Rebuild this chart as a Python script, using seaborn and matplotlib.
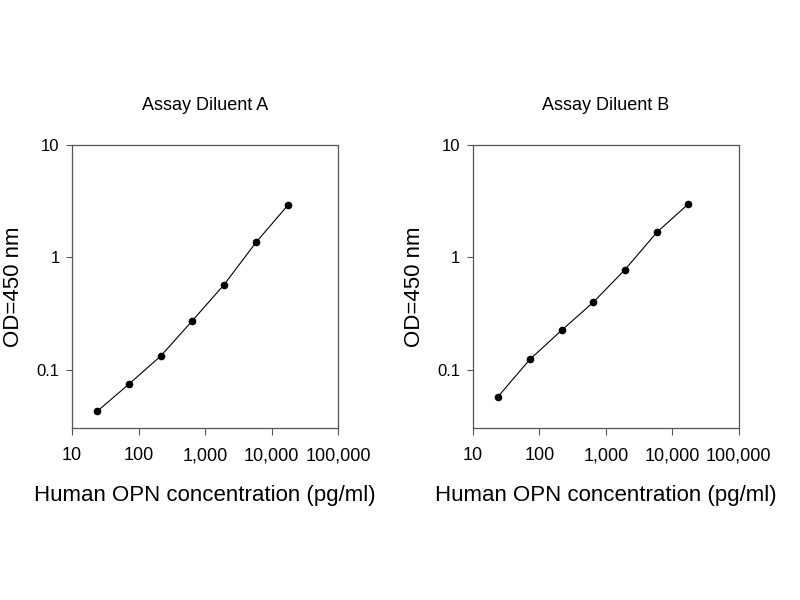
import pandas as pd
import seaborn as sns
import matplotlib.pyplot as plt
from matplotlib.ticker import FixedLocator, FixedFormatter, NullLocator

# Standard curve data
conc = [24, 72, 216, 648, 1944, 5833, 17500]
od_a = [0.043, 0.075, 0.133, 0.275, 0.575, 1.36, 2.9]
od_b = [0.058, 0.124, 0.225, 0.40, 0.78, 1.67, 3.0]
titles = ['Assay Diluent A', 'Assay Diluent B']

x_ticks = [10, 100, 1000, 10000, 100000]
x_labels = ['10', '100', '1,000', '10,000', '100,000']
y_ticks = [0.1, 1, 10]
y_labels = ['0.1', '1', '10']

sns.set_theme(style='ticks')
plt.rcParams['font.family'] = ['Liberation Sans', 'DejaVu Sans']
plt.rcParams['text.color'] = 'black'
plt.rcParams['axes.labelcolor'] = 'black'
plt.rcParams['axes.titlecolor'] = 'black'

fig = plt.figure(figsize=(8, 6), dpi=100)
ax_a = fig.add_axes([0.09, 0.2867, 0.3325, 0.4716])
ax_b = fig.add_axes([0.591, 0.2867, 0.3325, 0.4716])

for ax, od, title in zip([ax_a, ax_b], [od_a, od_b], titles):
    data = pd.DataFrame({'conc': conc, 'od': od})
    sns.lineplot(data=data, x='conc', y='od', ax=ax, color='black',
                 linewidth=0.8, marker='o', markersize=5.5,
                 markeredgewidth=0, markerfacecolor='black')
    ax.set_xscale('log')
    ax.set_yscale('log')
    ax.set_xlim(10, 100000)
    ax.set_ylim(0.0305, 10)

    ax.xaxis.set_major_locator(FixedLocator(x_ticks))
    ax.xaxis.set_major_formatter(FixedFormatter(x_labels))
    ax.xaxis.set_minor_locator(NullLocator())
    ax.yaxis.set_major_locator(FixedLocator(y_ticks))
    ax.yaxis.set_major_formatter(FixedFormatter(y_labels))
    ax.yaxis.set_minor_locator(NullLocator())

    ax.tick_params(axis='x', direction='out', length=5, width=0.8,
                   color='#555555', labelsize=13, pad=9, labelcolor='black')
    ax.tick_params(axis='y', direction='out', length=4, width=0.8,
                   color='#555555', labelsize=12, pad=5, labelcolor='black')
    for side in ['top', 'right', 'left', 'bottom']:
        ax.spines[side].set_visible(True)
        ax.spines[side].set_color('#555555')
        ax.spines[side].set_linewidth(0.9)

    ax.set_title(title, fontsize=13, pad=25, color='black')
    ax.set_xlabel('Human OPN concentration (pg/ml)', fontsize=16, labelpad=15)
    ax.set_ylabel('OD=450 nm', fontsize=16, labelpad=9)
    ax.grid(False)

fig.savefig('out.png', dpi=100, facecolor='white')
